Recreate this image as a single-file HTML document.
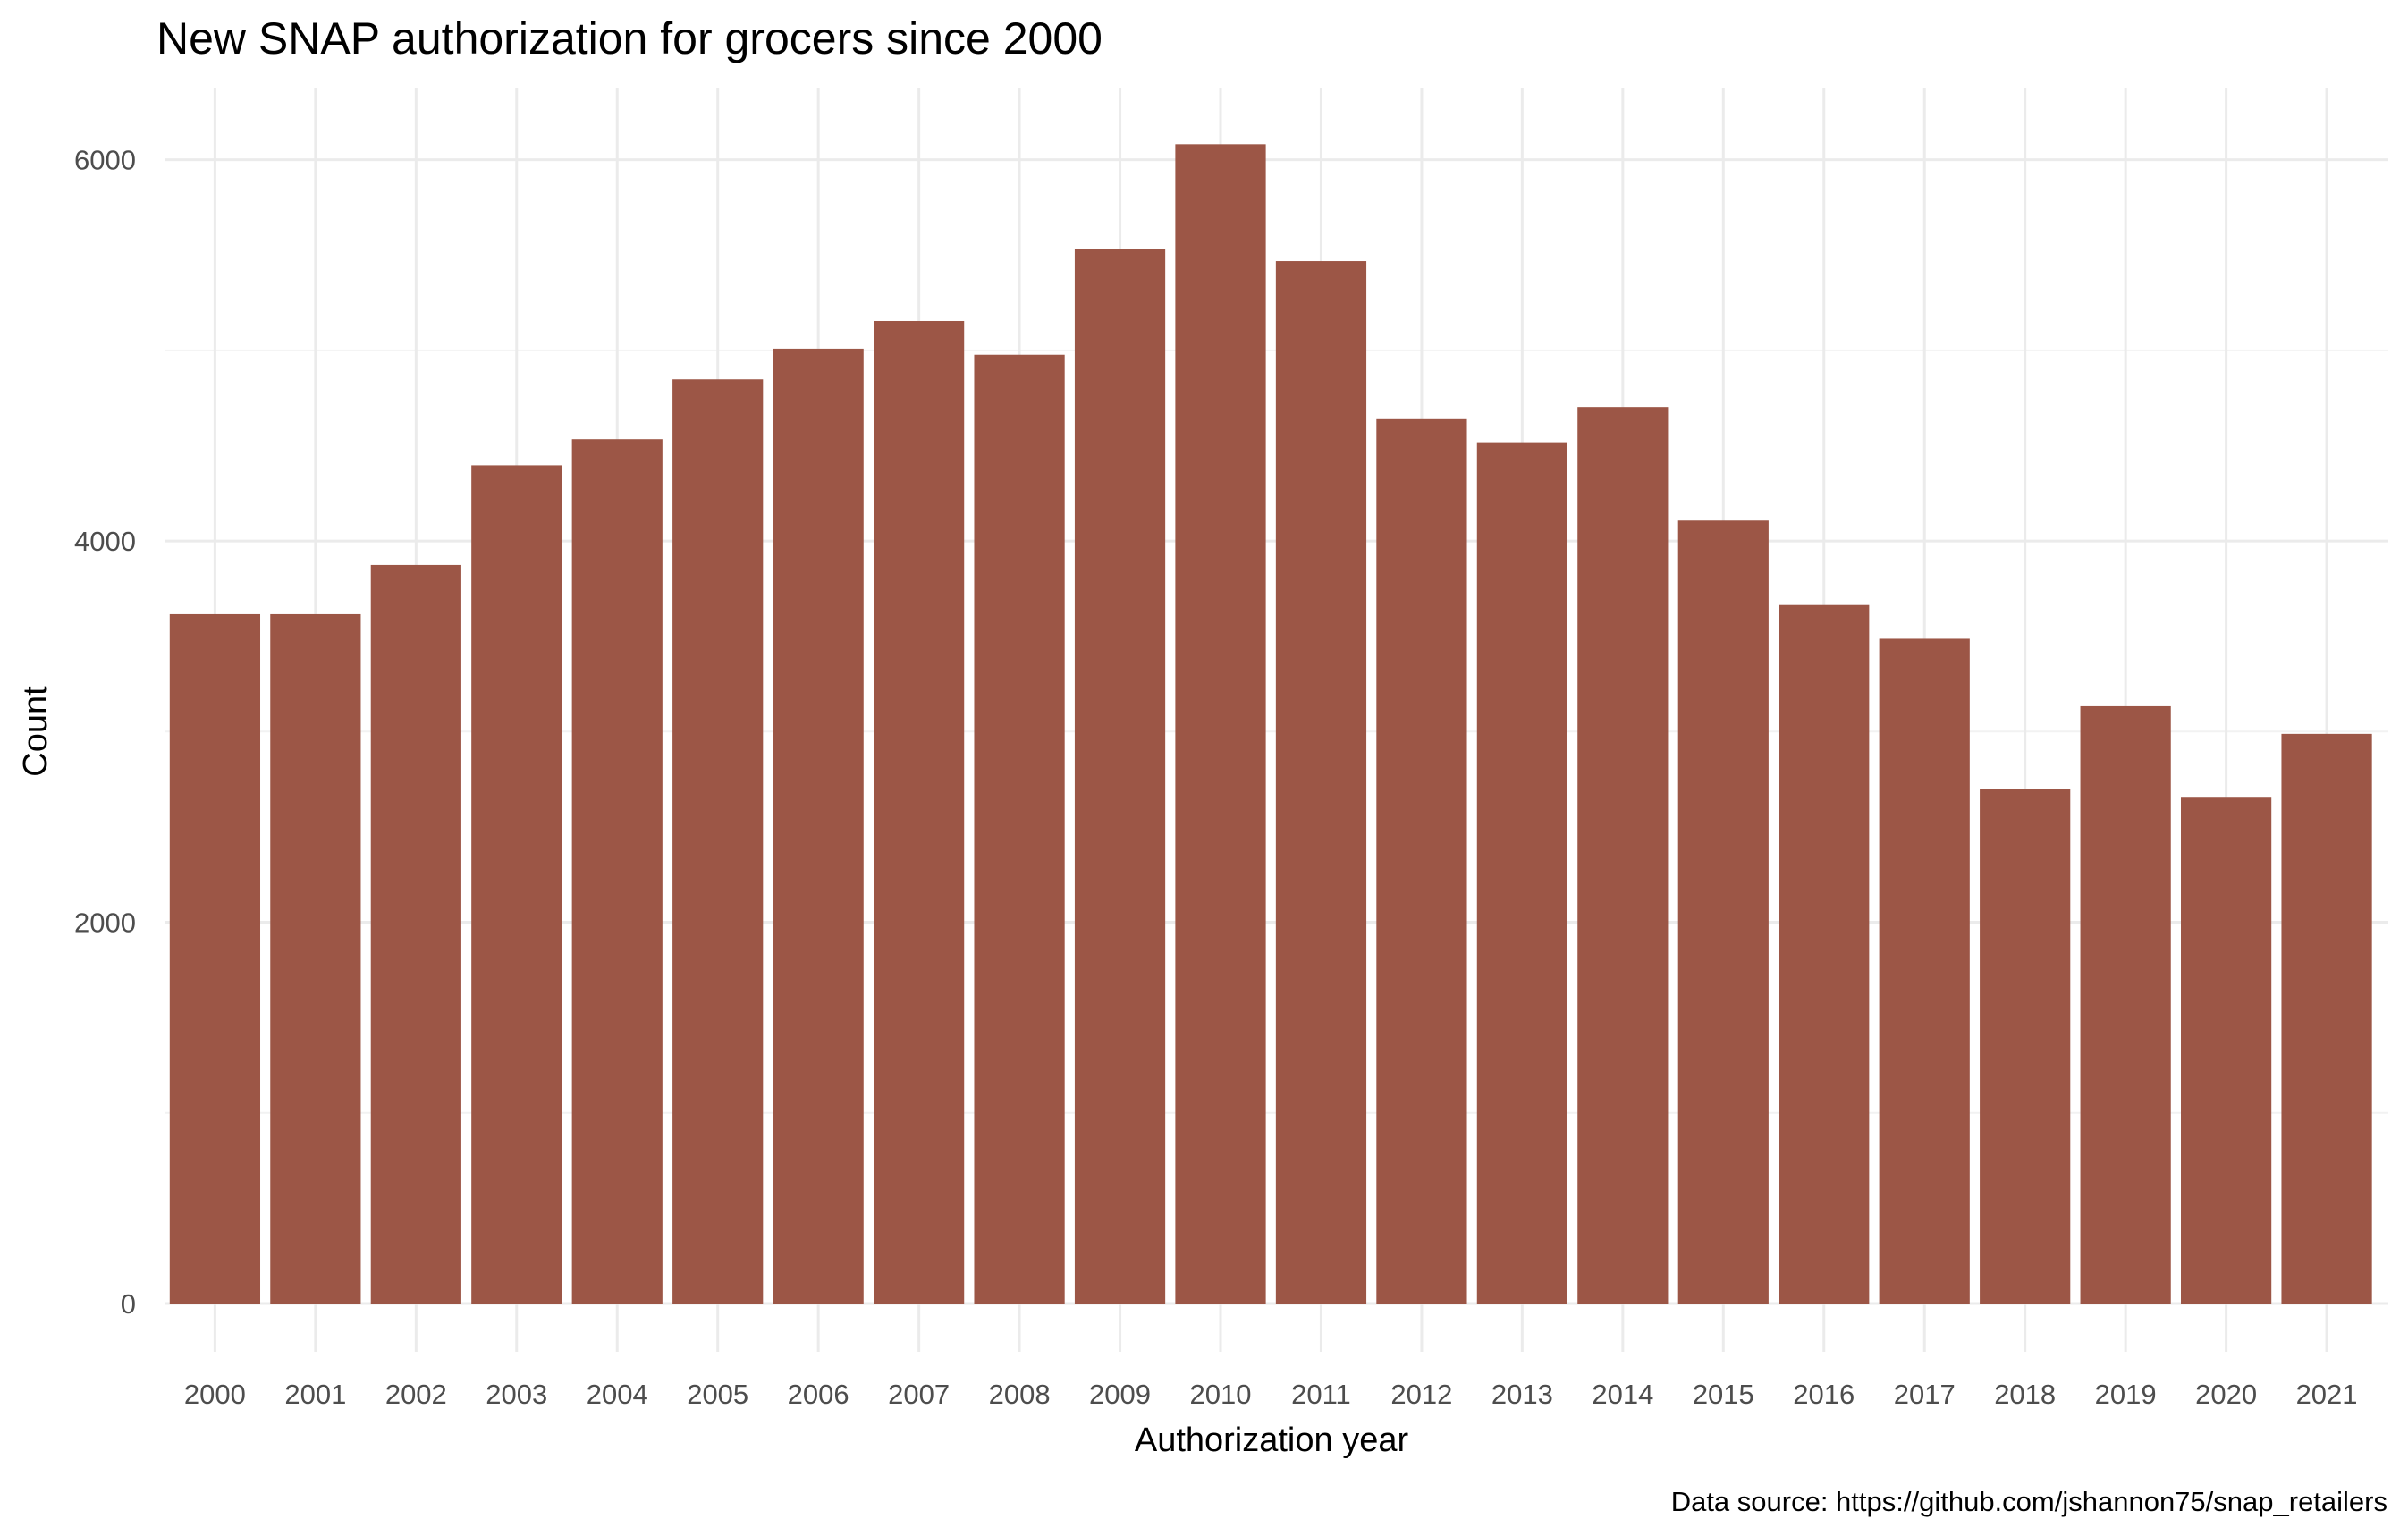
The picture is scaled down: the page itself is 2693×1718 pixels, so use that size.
<!DOCTYPE html>
<html><head><meta charset="utf-8"><style>
body{margin:0;background:#fff}
svg{display:block;font-family:"Liberation Sans",sans-serif}
</style></head><body>
<svg id="chart" width="2693" height="1718" viewBox="0 0 2693 1718">
<text x="175" y="60" font-size="50" fill="#000">New SNAP authorization for grocers since 2000</text>
<g id="grid"></g>
<g id="bars"></g>
<g id="xt"></g>
<g id="yt"></g>
<text x="1422" y="1623" font-size="38" text-anchor="middle" fill="#000">Authorization year</text>
<text transform="translate(52,818) rotate(-90)" font-size="38" text-anchor="middle" fill="#000">Count</text>
<text x="2670" y="1690" font-size="31" text-anchor="end" fill="#000">Data source: https://github.com/jshannon75/snap_retailers</text>
</svg>
<script>
const years=["2000","2001","2002","2003","2004","2005","2006","2007","2008","2009","2010","2011","2012","2013","2014","2015","2016","2017","2018","2019","2020","2021"];
const counts=[3616,3616,3874,4397,4534,4848,5009,5154,4977,5533,6081,5468,4639,4518,4703,4107,3664,3487,2698,3133,2658,2988];
const majorTicks=[0,2000,4000,6000];
const minorTicks=[1000,3000,5000];
const ns="http://www.w3.org/2000/svg";
const px0=185,px1=2671,y0=1458,yk=(1458-178.6)/6000;
const step=112.46;
const xc=i=>240.4+step*i;
const y=v=>y0-v*yk;
const bw=step*0.9;
function mk(p,tag,a){const e=document.createElementNS(ns,tag);for(const k in a)e.setAttribute(k,a[k]);document.getElementById(p).appendChild(e);return e;}
minorTicks.forEach(v=>{const l=mk('grid','line',{x1:px0,x2:px1,y1:y(v),y2:y(v),stroke:'#f2f2f2','stroke-width':2});

});
majorTicks.forEach(v=>{const l=mk('grid','line',{x1:px0,x2:px1,y1:y(v),y2:y(v),stroke:'#ebebeb','stroke-width':3});


const t=mk('yt','text',{x:152,y:y(v)+11,'font-size':31,'text-anchor':'end',fill:'#4d4d4d'});t.textContent=v;

});
years.forEach((yr,i)=>{const l=mk('grid','line',{x1:xc(i),x2:xc(i),y1:98,y2:1512,stroke:'#ebebeb','stroke-width':3});


const r=mk('bars','rect',{x:xc(i)-bw/2,y:y(counts[i]),width:bw,height:y0-y(counts[i]),fill:'#9c5646'});


const t=mk('xt','text',{x:xc(i),y:1570,'font-size':31,'text-anchor':'middle',fill:'#4d4d4d'});t.textContent=yr;

});
</script>
</body></html>
